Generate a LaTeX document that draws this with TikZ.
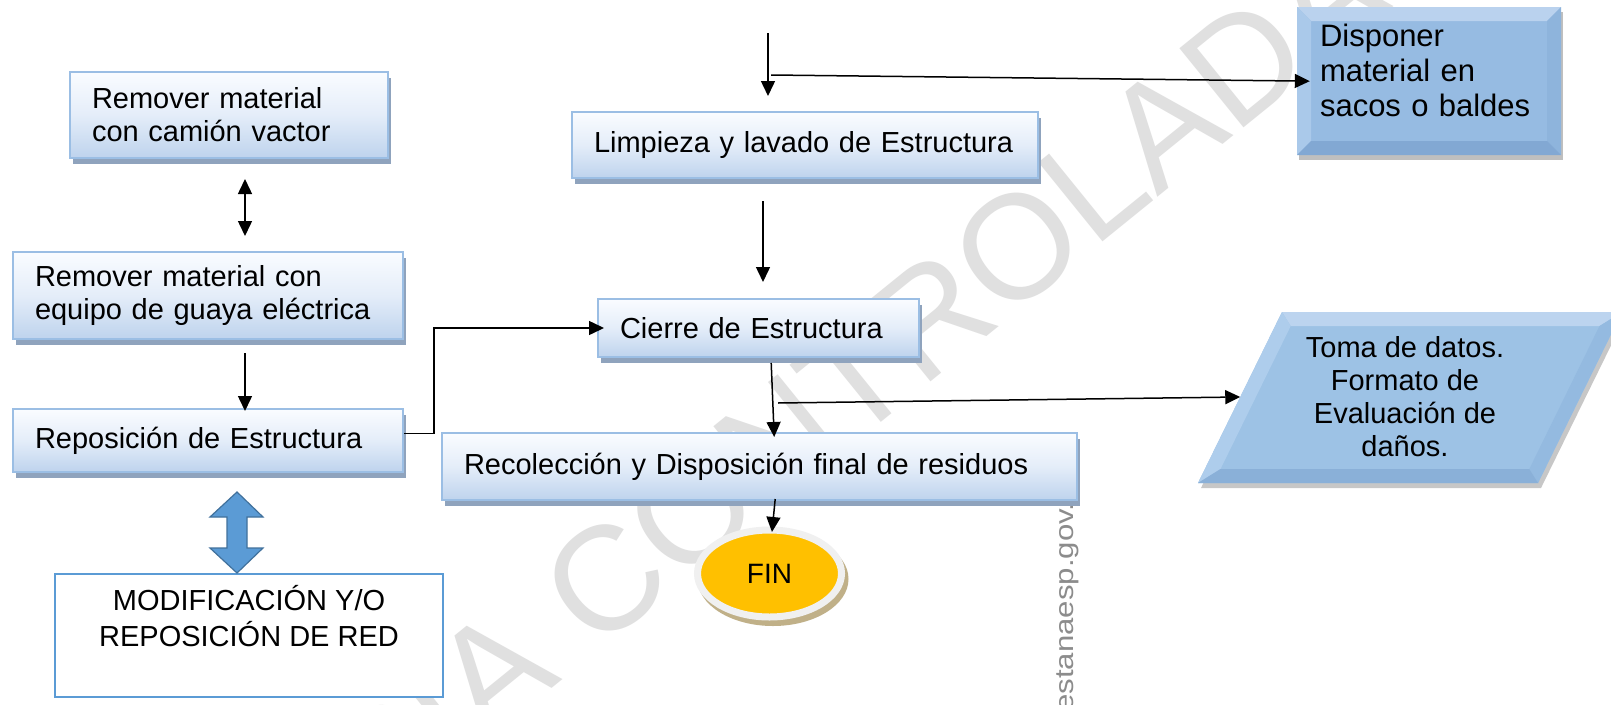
\documentclass[tikz,border=0pt]{standalone}
\usepackage{fontspec}
\setmainfont{Liberation Sans}
\usetikzlibrary{arrows.meta,calc,shadows,shapes.geometric}
\definecolor{boxborder}{RGB}{155,190,228}
\definecolor{boxtop}{RGB}{250,252,255}
\definecolor{boxmid}{RGB}{228,237,249}
\definecolor{boxbot}{RGB}{190,211,237}
\definecolor{boxshadow}{RGB}{143,163,189}
\definecolor{bevmid}{RGB}{150,187,226}
\definecolor{bevtop}{RGB}{186,210,238}
\definecolor{bevleft}{RGB}{170,201,234}
\definecolor{bevright}{RGB}{142,180,220}
\definecolor{bevbot}{RGB}{130,168,211}
\definecolor{parmid}{RGB}{157,194,229}
\definecolor{partop}{RGB}{188,212,239}
\definecolor{parleft}{RGB}{174,205,236}
\definecolor{parright}{RGB}{148,186,224}
\definecolor{parbot}{RGB}{138,176,216}
\definecolor{arrowblue}{RGB}{91,155,213}
\definecolor{arrowedge}{RGB}{65,113,156}
\definecolor{modborder}{RGB}{91,155,213}
\definecolor{finyellow}{RGB}{255,192,0}
\definecolor{finring}{RGB}{240,240,240}
\definecolor{finshadow}{RGB}{192,176,136}
\definecolor{wmark}{RGB}{224,224,224}
\definecolor{urlgray}{RGB}{140,140,140}
\begin{document}
\begin{tikzpicture}[x=1pt,y=-1pt,
  flowbox/.style={draw=boxborder, line width=2pt, top color=boxtop, bottom color=boxbot, middle color=boxmid,
    align=left, inner xsep=22pt, inner ysep=0pt, font=\fontsize{29}{33}\selectfont,
    drop shadow={shadow xshift=3pt, shadow yshift=-6pt, fill=boxshadow, opacity=1}},
  bevelbox/.style={rectangle, fill=bevmid, inner ysep=0pt,
    drop shadow={shadow xshift=2pt, shadow yshift=-5pt, fill=black, opacity=0.25},
    path picture={
      \coordinate (pNW) at (path picture bounding box.north west);
      \coordinate (pNE) at (path picture bounding box.north east);
      \coordinate (pSW) at (path picture bounding box.south west);
      \coordinate (pSE) at (path picture bounding box.south east);
      \fill[bevtop] (pNW) -- (pNE) -- ($(pNE)+(-14,14)$) -- ($(pNW)+(14,14)$) -- cycle;
      \fill[bevleft] (pNW) -- ($(pNW)+(14,14)$) -- ($(pSW)+(14,-14)$) -- (pSW) -- cycle;
      \fill[bevright] (pNE) -- ($(pNE)+(-14,14)$) -- ($(pSE)+(-14,-14)$) -- (pSE) -- cycle;
      \fill[bevbot] (pSW) -- ($(pSW)+(14,-14)$) -- ($(pSE)+(-14,-14)$) -- (pSE) -- cycle;
    }},
  arr/.style={-{Triangle[length=15pt,width=14pt]}, line width=1.5pt, black},
  dblarr/.style={{Triangle[length=15pt,width=14pt]}-{Triangle[length=15pt,width=14pt]}, line width=1.5pt, black}
]
\useasboundingbox (0,0) rectangle (1611,704);
\fill[white] (0,0) rectangle (1611,704);
\clip (0,0) rectangle (1611,704);

% watermark
\node[rotate=39, text=wmark, font=\fontsize{148}{148}\selectfont, inner sep=0pt] (wm) at (768,448) {COPIA CONTROLADA};
\node[rotate=90, xscale=1.2, anchor=base west, text=urlgray, font=\fontsize{26}{26}\selectfont, inner sep=0pt] (url) at (1073,712) {estanaesp.gov.co};

% left column
\node[flowbox, minimum width=318pt, minimum height=86pt, text width=274pt] (b1) at (229,115) {Remover material\\con camión vactor};
\node[flowbox, minimum width=390pt, minimum height=87pt, text width=346pt] (b2) at (208,295.5) {Remover material con\\equipo de guaya eléctrica};
\node[flowbox, minimum width=390pt, minimum height=63pt, text width=346pt] (b3) at (208,440.5) {Reposición de Estructura};
\node[draw=modborder, line width=2pt, fill=white, minimum width=388pt, minimum height=123pt, inner sep=0pt,
  align=center, font=\fontsize{29}{36}\selectfont, text depth=40pt] (mod) at (249,635.5) {MODIFICACIÓN Y/O\\REPOSICIÓN DE RED};

% big blue double arrow
\filldraw[fill=arrowblue, draw=arrowedge, line width=1.2pt]
  (237,492) -- (263,517) -- (247,517) -- (247,548) -- (263,548) -- (237,573)
  -- (210,548) -- (227,548) -- (227,517) -- (210,517) -- cycle;

% middle column
\node[flowbox, minimum width=466pt, minimum height=66pt, text width=422pt] (limp) at (805,145) {Limpieza y lavado de Estructura};
\node[flowbox, minimum width=321pt, minimum height=58pt, text width=277pt] (cierre) at (758.5,328) {Cierre de Estructura};
\node[flowbox, minimum width=635pt, minimum height=67pt, text width=591pt] (recol) at (759.5,466.5) {Recolección y Disposición final de residuos};

% FIN
\node[ellipse, fill=finshadow, minimum width=151pt, minimum height=94pt, inner sep=0pt] (finsh) at (773,579) {};
\node[ellipse, fill=finyellow, draw=finring, line width=7pt, minimum width=144pt, minimum height=87pt, inner sep=0pt,
  font=\fontsize{28}{28}\selectfont] (fin) at (769.5,573.5) {FIN};

% right column
\node[bevelbox, minimum width=264pt, minimum height=148pt, inner xsep=23pt, text width=218pt, align=left,
  font=\fontsize{31}{35}\selectfont, text depth=92pt] (disp) at (1429,81) {Disponer\\material en\\sacos o baldes};

\coordinate (tBL) at (1198,483);
\coordinate (tTL) at (1282,312);
\coordinate (tTR) at (1622,312);
\coordinate (tBR) at (1538,483);
\fill[black, opacity=0.22] ($(tBL)+(3,5)$) -- ($(tTL)+(3,5)$) -- ($(tTR)+(3,5)$) -- ($(tBR)+(3,5)$) -- cycle;
\fill[parmid] (tBL) -- (tTL) -- (tTR) -- (tBR) -- cycle;
\fill[partop] (tTL) -- (tTR) -- ($(tTR)+(-22.5,14)$) -- ($(tTL)+(8.7,14)$) -- cycle;
\fill[parleft] (tBL) -- (tTL) -- ($(tTL)+(8.7,14)$) -- ($(tBL)+(22.5,-14)$) -- cycle;
\fill[parright] (tTR) -- (tBR) -- ($(tBR)+(-8.7,-14)$) -- ($(tTR)+(-22.5,14)$) -- cycle;
\fill[parbot] (tBL) -- (tBR) -- ($(tBR)+(-8.7,-14)$) -- ($(tBL)+(22.5,-14)$) -- cycle;
\path (tBL) -- (tTL) coordinate[pos=0.503] (tomain);
\node[align=center, font=\fontsize{29}{33}\selectfont, inner sep=0pt] (toma) at (1405,397) {Toma de datos.\\Formato de\\Evaluación de\\daños.};

% connectors
\coordinate (dx) at (245,0);
\coordinate (lx) at (763,0);
\coordinate (topstart) at (768,33);
\coordinate (split1) at (771,75);
\coordinate (split2) at (778,403);

\draw[dblarr, shorten <=20pt, shorten >=15pt] (b1.south -| dx) -- (b2.north -| dx);
\draw[arr, shorten <=13pt, shorten >=-3pt] (b2.south -| dx) -- (b3.north -| dx);
\draw[arr, shorten >=-7pt] ([yshift=7pt]b3.east) -- ++(30,0) |- (cierre.west);

\draw[arr, shorten >=15pt] (topstart) -- (topstart |- limp.north);
\draw[arr, shorten >=-13pt] (split1) -- (disp.west);
\draw[arr, shorten <=22pt, shorten >=16pt] (limp.south -| lx) -- (cierre.north -| lx);
\draw[arr, shorten <=5pt, shorten >=-5pt] ([xshift=12.5pt]cierre.south) -- ([xshift=14.5pt]recol.north);
\draw[arr] (split2) -- (tomain);
\draw[arr, shorten <=-2pt, shorten >=-5.5pt] ([xshift=15.5pt]recol.south) -- ([xshift=3pt]fin.north);
\end{tikzpicture}
\end{document}
